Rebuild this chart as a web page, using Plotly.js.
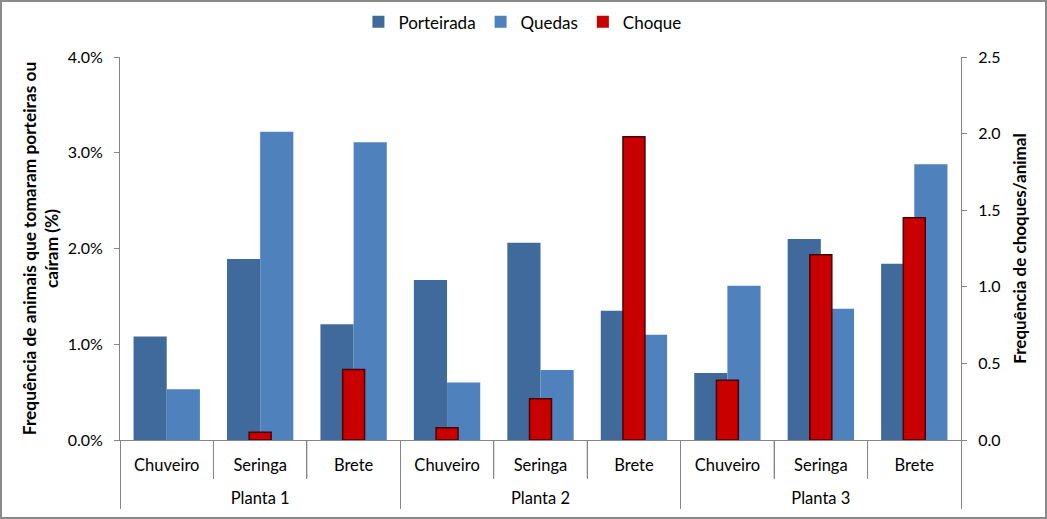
<!DOCTYPE html>
<html>
<head>
<meta charset="utf-8">
<script src="https://cdn.plot.ly/plotly-3.0.1.min.js"></script>
<style>
  html, body { margin: 0; padding: 0; background: #fff; }
  #wrap { position: relative; width: 1047px; height: 519px; }
  #chart { width: 1047px; height: 519px; }
  #frame { position: absolute; left: 0; top: 0; width: 1047px; height: 519px; box-sizing: border-box; border: 2px solid #8a8a8a; pointer-events: none; }
</style>
</head>
<body>
<div id="wrap"><div id="chart"></div><div id="frame"></div></div>
<script>
const plants = ["Planta 1","Planta 1","Planta 1","Planta 2","Planta 2","Planta 2","Planta 3","Planta 3","Planta 3"];
const stages = ["Chuveiro","Seringa","Brete","Chuveiro","Seringa","Brete","Chuveiro","Seringa","Brete"];
const porteirada = [1.08, 1.89, 1.21, 1.67, 2.06, 1.35, 0.70, 2.10, 1.84];
const quedas     = [0.53, 3.22, 3.11, 0.60, 0.73, 1.10, 1.61, 1.37, 2.88];
const choque     = [0.00, 0.05, 0.46, 0.08, 0.27, 1.98, 0.39, 1.21, 1.45];

const FONT = "Lato, 'Open Sans', sans-serif";
const x = [plants, stages];

const data = [
  { type: "bar", name: "Porteirada", x: x, y: porteirada, xaxis: "x", yaxis: "y",
    marker: { color: "#416A9C" } },
  { type: "bar", name: "Quedas", x: x, y: quedas, xaxis: "x", yaxis: "y",
    marker: { color: "#4F81BD" } },
  { type: "bar", name: "Choque", x: x, y: choque, xaxis: "x", yaxis: "y2",
    width: 0.235,
    marker: { color: "#C80000",
              line: { color: "#4a0000", width: choque.map(function (v) { return v > 0 ? 1.5 : 0; }) } } }
];

// short separator ticks between the stage categories (boundaries between indices)
const sepShapes = [];
for (let i = 0; i < stages.length - 1; i++) {
  if ((i + 1) % 3 === 0) continue;
  sepShapes.push({ type: "line", xref: "x", yref: "paper", x0: i + 0.5, x1: i + 0.5,
                   y0: 0, y1: -38 / 383, line: { color: "#868686", width: 1 } });
}

const layout = {
  width: 1047, height: 519,
  margin: { l: 120, r: 86, t: 57, b: 79 },
  paper_bgcolor: "#ffffff", plot_bgcolor: "#ffffff",
  font: { family: FONT, size: 16, color: "#000" },
  barmode: "group",
  bargap: 0.29,
  bargroupgap: 0,
  showlegend: true,
  legend: { orientation: "h", x: 0.4785, xanchor: "center", y: 0.957, yref: "container", yanchor: "middle",
            font: { family: FONT, size: 17, color: "#000" }, traceorder: "normal" },
  shapes: sepShapes,
  xaxis: {
    type: "multicategory",
    showline: true, linecolor: "#868686", linewidth: 1,
    ticks: "outside", tickson: "boundaries", ticklen: 38, tickcolor: "#868686",
    showdividers: true, dividercolor: "#868686", dividerwidth: 1,
    tickangle: 0.001,
    ticklabelstandoff: 10,
    tickfont: { family: FONT, size: 16.5, color: "#000" },
    showgrid: false, zeroline: false
  },
  yaxis: {
    range: [0, 4], dtick: 1, tickformat: ".1f", ticksuffix: "%",
    showline: true, linecolor: "#868686", linewidth: 1,
    ticks: "outside", ticklen: 5, tickcolor: "#868686",
    ticklabelstandoff: 8,
    showgrid: false, zeroline: false,
    tickfont: { family: FONT, size: 16, color: "#000" },
    title: { text: "Frequência de animais que tomaram porteiras ou<br>caíram (%)",
             font: { family: FONT, size: 17.3, color: "#000", weight: "bold" }, standoff: 4 }
  },
  yaxis2: {
    overlaying: "y", side: "right",
    range: [0, 2.5], dtick: 0.5, tickformat: ".1f",
    showline: true, linecolor: "#868686", linewidth: 1,
    ticks: "outside", ticklen: 5, tickcolor: "#868686",
    ticklabelstandoff: 8,
    showgrid: false, zeroline: false,
    tickfont: { family: FONT, size: 16, color: "#000" },
    title: { text: "Frequência de choques/animal",
             font: { family: FONT, size: 17, color: "#000", weight: "bold" }, standoff: 14 }
  }
};

Plotly.newPlot("chart", data, layout, { displayModeBar: false, staticPlot: true }).then(function (gd) {
  // centre the first-level (stage) labels under their categories
  gd.querySelectorAll("g.xtick text").forEach(function (t) {
    t.setAttribute("text-anchor", "middle");
  });
});
</script>
</body>
</html>
